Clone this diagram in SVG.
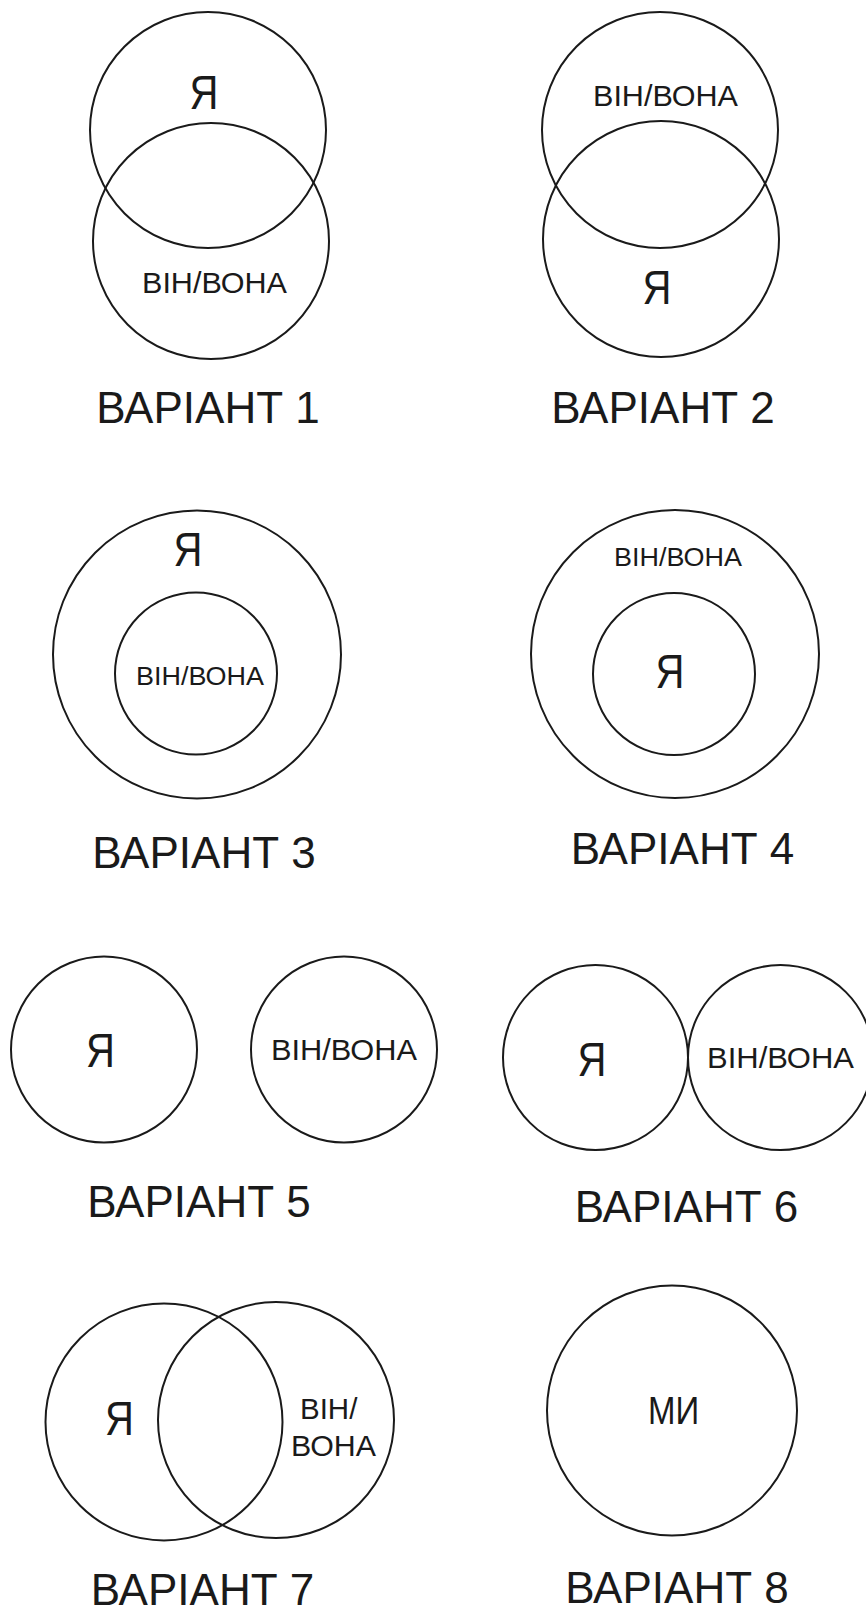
<svg xmlns="http://www.w3.org/2000/svg" width="866" height="1611" viewBox="0 0 866 1611">
<style>
.c{fill:none;stroke:#1a1a1a;stroke-width:2}
text{font-family:"Liberation Sans",Arial,sans-serif;fill:#1a1a1a}
.ya{font-size:40px;text-anchor:middle}
.lb{font-size:29.5px}
.ls{font-size:26px}
.ti{font-size:44px;text-anchor:middle}
</style>
<rect width="866" height="1611" fill="#ffffff"/>
<g id="connectors"/>
<g id="variant1">
<g id="v1-ya"><circle class="c" cx="208" cy="130" r="118"/><text class="ya" transform="translate(204,109) scale(1,1.2)">Я</text></g>
<g id="v1-vin"><circle class="c" cx="211" cy="241" r="118"/><text class="lb" x="142" y="293" textLength="145" lengthAdjust="spacingAndGlyphs">ВІН/ВОНА</text></g>
<text class="ti" x="208" y="423">ВАРІАНТ 1</text>
</g>
<g id="variant2">
<g id="v2-vin"><circle class="c" cx="660" cy="130" r="118"/><text class="lb" x="593" y="106" textLength="145" lengthAdjust="spacingAndGlyphs">ВІН/ВОНА</text></g>
<g id="v2-ya"><circle class="c" cx="661" cy="239" r="118"/><text class="ya" transform="translate(657,304) scale(1,1.2)">Я</text></g>
<text class="ti" x="663" y="423">ВАРІАНТ 2</text>
</g>
<g id="variant3">
<g id="v3-ya"><circle class="c" cx="197" cy="654.5" r="144"/><text class="ya" transform="translate(188,566) scale(1,1.2)">Я</text></g>
<g id="v3-vin"><circle class="c" cx="196" cy="673.5" r="81"/><text class="ls" x="136" y="685" textLength="128" lengthAdjust="spacingAndGlyphs">ВІН/ВОНА</text></g>
<text class="ti" x="204" y="868">ВАРІАНТ 3</text>
</g>
<g id="variant4">
<g id="v4-vin"><circle class="c" cx="675" cy="654" r="144"/><text class="ls" x="614" y="566" textLength="128" lengthAdjust="spacingAndGlyphs">ВІН/ВОНА</text></g>
<g id="v4-ya"><circle class="c" cx="674" cy="674" r="81"/><text class="ya" transform="translate(670,688) scale(1,1.2)">Я</text></g>
<text class="ti" x="682.5" y="864">ВАРІАНТ 4</text>
</g>
<g id="variant5">
<g id="v5-ya"><circle class="c" cx="104" cy="1049.5" r="93"/><text class="ya" transform="translate(100.5,1067) scale(1,1.2)">Я</text></g>
<g id="v5-vin"><circle class="c" cx="344" cy="1049.5" r="93"/><text class="lb" x="271" y="1060" textLength="146" lengthAdjust="spacingAndGlyphs">ВІН/ВОНА</text></g>
<text class="ti" x="199" y="1217">ВАРІАНТ 5</text>
</g>
<g id="variant6">
<g id="v6-ya"><circle class="c" cx="595.5" cy="1057.5" r="92.5"/><text class="ya" transform="translate(592,1076) scale(1,1.2)">Я</text></g>
<g id="v6-vin"><circle class="c" cx="780.5" cy="1057.5" r="92.5"/><text class="lb" x="707" y="1068" textLength="147" lengthAdjust="spacingAndGlyphs">ВІН/ВОНА</text></g>
<text class="ti" x="686.5" y="1222">ВАРІАНТ 6</text>
</g>
<g id="variant7">
<g id="v7-ya"><circle class="c" cx="164" cy="1422" r="118.5"/><text class="ya" transform="translate(119.5,1435) scale(1,1.2)">Я</text></g>
<g id="v7-vin"><circle class="c" cx="276" cy="1420" r="118"/><text class="lb" x="300" y="1419">ВІН/</text><text class="lb" x="291" y="1456" textLength="85" lengthAdjust="spacingAndGlyphs">ВОНА</text></g>
<text class="ti" x="202.5" y="1605">ВАРІАНТ 7</text>
</g>
<g id="variant8">
<g id="v8-mi"><circle class="c" cx="672" cy="1410.5" r="125"/><text class="ya" style="font-size:33px" transform="translate(673.5,1424) scale(1,1.2)">МИ</text></g>
<text class="ti" x="677" y="1603">ВАРІАНТ 8</text>
</g>
</svg>
